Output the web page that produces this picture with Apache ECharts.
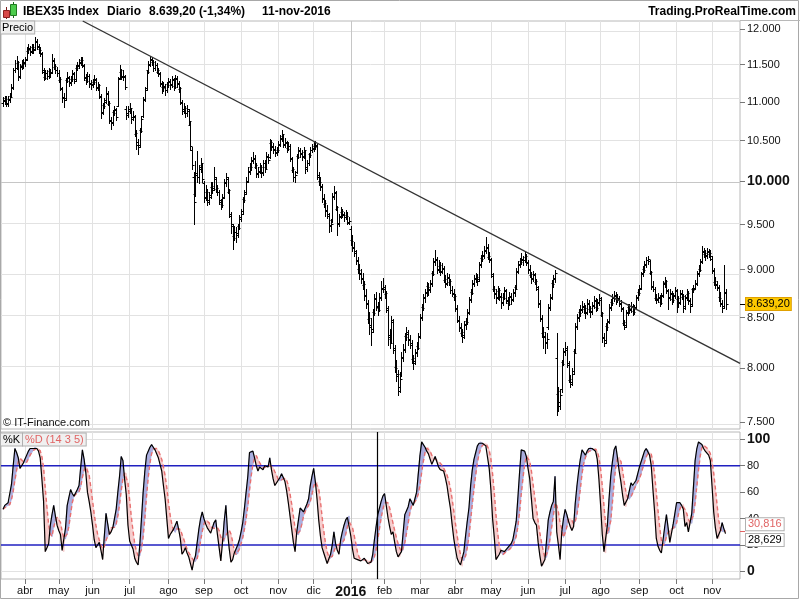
<!DOCTYPE html>
<html><head><meta charset="utf-8">
<script src="https://cdn.jsdelivr.net/npm/echarts@6/dist/echarts.min.js"></script>
<style>html,body{margin:0;padding:0;background:#fff}#c{width:800px;height:600px}</style>
</head><body><div id="c"></div>
<script>
// ---------- DATA ----------
const monthLabels = ['mar','abr','may','jun','jul','ago','sep','oct','nov','dic','2016','feb','mar','abr','may','jun','jul','ago','sep','oct','nov'];
const tradingDays = [13,20,20,22,23,21,22,22,21,22,20,21,21,21,22,22,21,23,22,21,9];

const open = [
10980,11020,11050,10970,11040,11080,11200,11430,11460,11520,
11350,11470,11500,11540,11580,11690,11730,11690,11750,11720,
11830,11750,11710,11640,11400,11330,11390,11340,11410,11400,
11550,11470,11430,11380,11290,11170,11060,11050,11290,11320,
11260,11310,11370,11300,11460,11490,11530,11560,11480,11330,
11290,11340,11250,11230,11270,11290,11190,11200,11060,10870,
10960,11020,11100,10970,10750,10740,10870,10890,10950,11320,
11400,11340,11330,10900,10850,10900,10880,10800,10800,10580,
10480,10450,10640,10820,11040,11180,11420,11510,11570,11530,
11460,11490,11400,11370,11240,11190,11210,11160,11230,11270,
11230,11290,11210,11310,11240,11170,10990,10900,10900,10860,
10880,10700,10380,10050,9850,10080,10060,10170,10200,9980,
9820,9870,9780,9840,9940,9920,10030,9910,9870,9760,
9740,9820,9990,10030,9880,9600,9480,9370,9410,9400,
9480,9580,9650,9790,9870,10010,10130,10170,10260,10270,
10180,10100,10130,10170,10110,10230,10170,10310,10300,10470,
10430,10390,10360,10390,10460,10530,10560,10460,10470,10410,
10430,10270,10140,10060,10120,10310,10370,10340,10310,10360,
10170,10230,10330,10390,10410,10430,10440,10080,10010,9930,
9790,9740,9660,9600,9490,9550,9830,9860,9680,9520,
9600,9640,9610,9590,9610,9520,9450,9320,9240,9180,
9090,9010,8960,8910,8840,8730,8640,8490,8420,8380,
8560,8690,8610,8600,8710,8810,8800,8740,8580,8320,
8280,8450,8180,8010,7930,7820,7950,8110,8190,8310,
8330,8270,8230,8090,8070,8160,8220,8310,8510,8610,
8710,8760,8830,8790,8860,8960,9090,9110,9010,9040,
8990,9010,8890,8860,8910,8870,8780,8740,8710,8590,
8470,8390,8340,8320,8430,8460,8560,8690,8760,8860,
8910,8910,8900,9060,9130,9160,9210,9240,9140,9100,
8930,8790,8740,8710,8770,8710,8660,8710,8770,8670,
8650,8710,8690,8760,8820,8990,9060,9090,9110,9110,
9140,9070,9010,8940,8910,8940,8870,8800,8640,8490,
8340,8310,8260,8400,8610,8710,8860,8910,8100,7760,
7680,7800,8060,8170,8180,8030,7890,7870,7970,8170,
8410,8510,8560,8590,8610,8590,8560,8640,8590,8570,
8630,8670,8610,8660,8680,8530,8290,8270,8410,8460,
8610,8660,8710,8730,8690,8690,8640,8590,8440,8420,
8560,8610,8590,8610,8570,8610,8710,8760,8810,8960,
9010,9060,9110,9090,8960,8830,8790,8700,8690,8710,
8660,8730,8860,8870,8770,8710,8740,8690,8730,8770,
8690,8660,8740,8710,8620,8710,8740,8670,8640,8790,
8810,8860,8960,9010,9090,9190,9170,9160,9190,9170,
9120,8990,8870,8840,8810,8710,8640,8620,8760];

const high = [
11060,11080,11070,11070,11110,11230,11450,11560,11620,11550,
11510,11560,11580,11600,11740,11780,11760,11790,11780,11880,
11860,11790,11740,11680,11460,11420,11430,11450,11440,11650,
11590,11510,11470,11420,11330,11200,11110,11320,11400,11350,
11340,11420,11400,11490,11530,11580,11610,11600,11510,11370,
11400,11370,11290,11300,11360,11320,11270,11230,11100,10990,
11050,11200,11140,11010,10800,10890,10950,10920,11330,11500,
11440,11420,11360,10950,10950,10990,10900,10880,10830,10640,
10520,10660,10820,11060,11200,11430,11550,11620,11610,11570,
11550,11520,11460,11400,11280,11260,11240,11260,11320,11300,
11340,11320,11360,11350,11280,11200,11030,10980,10940,10960,
10910,10740,10420,10120,10250,10370,10200,10290,10230,10010,
9960,9910,9880,10000,9990,10170,10060,9960,9900,9790,
9850,10030,10100,10060,9910,9640,9510,9480,9470,9510,
9610,9680,9820,9900,10050,10170,10230,10300,10360,10320,
10220,10170,10230,10200,10260,10260,10360,10340,10520,10510,
10470,10430,10420,10500,10570,10640,10590,10530,10500,10490,
10460,10300,10180,10130,10340,10420,10410,10390,10420,10390,
10260,10350,10420,10460,10480,10500,10460,10120,10060,9970,
9850,9780,9720,9630,9560,9860,9950,9890,9710,9620,
9700,9680,9640,9660,9640,9580,9480,9380,9300,9220,
9140,9060,9010,8960,8880,8800,8680,8560,8500,8590,
8740,8760,8660,8750,8880,8910,8840,8770,8620,8380,
8520,8490,8230,8080,7980,7960,8160,8240,8340,8400,
8370,8320,8270,8130,8190,8260,8340,8540,8640,8740,
8800,8870,8860,8890,8990,9130,9220,9140,9100,9080,
9070,9040,8940,8960,8950,8900,8830,8790,8740,8630,
8520,8440,8380,8460,8500,8590,8710,8790,8890,8940,
8970,8950,9080,9160,9200,9260,9360,9280,9190,9130,
8970,8830,8790,8830,8810,8750,8750,8820,8800,8710,
8760,8750,8800,8840,9020,9090,9130,9180,9150,9190,
9170,9100,9050,8980,8990,8970,8900,8830,8680,8530,
8400,8350,8340,8640,8740,8890,8940,9000,8340,7820,
7800,8080,8200,8260,8220,8070,7940,8000,8190,8440,
8540,8590,8630,8670,8650,8630,8690,8680,8620,8660,
8720,8700,8690,8740,8710,8560,8340,8440,8490,8640,
8690,8740,8770,8760,8740,8720,8680,8610,8480,8580,
8640,8640,8660,8640,8630,8730,8790,8840,8980,9040,
9090,9140,9150,9110,8990,8880,8820,8740,8750,8730,
8750,8880,8920,8890,8800,8790,8770,8750,8820,8800,
8720,8780,8780,8740,8730,8790,8770,8700,8810,8840,
8890,8990,9050,9120,9260,9240,9220,9240,9230,9210,
9150,9020,8920,8880,8840,8760,8680,9050,8800];

const low = [
10950,10970,10940,10950,11000,11060,11170,11400,11440,11290,
11320,11440,11460,11480,11560,11660,11630,11660,11660,11700,
11720,11660,11620,11390,11290,11300,11300,11320,11330,11380,
11440,11380,11340,11260,11150,11000,10930,11030,11260,11210,
11220,11280,11250,11280,11420,11460,11500,11470,11290,11240,
11260,11200,11170,11190,11240,11150,11160,11050,10790,10840,
10920,10990,10960,10720,10650,10700,10830,10760,10940,11300,
11300,11290,11170,10780,10800,10850,10730,10760,10560,10400,
10330,10420,10610,10800,11010,11160,11390,11480,11490,11410,
11430,11380,11340,11210,11120,11140,11090,11130,11190,11170,
11200,11150,11180,11200,11130,10970,10840,10850,10800,10820,
10700,10380,10150,9500,9830,10000,9980,10120,9990,9760,
9780,9720,9740,9810,9860,9900,9880,9840,9740,9680,
9700,9800,9950,9860,9590,9400,9230,9320,9300,9360,
9450,9540,9620,9760,9850,9990,10090,10140,10220,10160,
10050,10060,10100,10060,10080,10110,10150,10220,10280,10380,
10350,10310,10320,10360,10430,10500,10420,10420,10360,10380,
10250,10110,10010,10000,10100,10280,10300,10260,10280,10100,
10130,10200,10300,10360,10370,10400,10030,9960,9900,9760,
9700,9600,9570,9420,9430,9530,9790,9660,9380,9480,
9570,9580,9540,9560,9500,9500,9270,9200,9150,9060,
8960,8900,8860,8800,8680,8600,8440,8330,8230,8350,
8530,8580,8530,8570,8680,8760,8700,8560,8230,8200,
8250,8150,7960,7880,7750,7780,7930,8070,8160,8270,
8230,8200,8050,7990,8040,8120,8190,8290,8480,8580,
8660,8720,8730,8760,8830,8940,9050,8970,8980,8940,
8960,8870,8820,8840,8840,8750,8720,8680,8570,8450,
8360,8310,8260,8290,8380,8430,8540,8660,8740,8830,
8870,8840,8880,9030,9090,9130,9180,9120,9080,8920,
8770,8700,8650,8690,8680,8600,8630,8690,8650,8590,
8630,8640,8670,8720,8800,8960,9030,9060,9050,9080,
9050,8960,8920,8860,8880,8850,8780,8610,8460,8300,
8200,8150,8200,8380,8580,8690,8820,8870,7570,7600,
7620,7780,8030,8130,8010,7870,7820,7840,7950,8150,
8380,8470,8520,8560,8550,8500,8540,8560,8510,8540,
8600,8570,8580,8630,8520,8260,8220,8250,8370,8440,
8580,8630,8670,8640,8660,8620,8570,8420,8380,8400,
8530,8550,8560,8530,8540,8590,8680,8730,8790,8930,
8980,9030,9060,8950,8800,8770,8680,8650,8660,8620,
8640,8710,8820,8750,8590,8680,8640,8660,8700,8560,
8610,8640,8690,8560,8590,8680,8640,8560,8620,8760,
8790,8840,8930,8990,9070,9140,9110,9130,9140,9110,
8960,8840,8810,8780,8670,8620,8560,8600,8590];

const close = [
11010,11040,10980,11030,11060,11180,11420,11450,11540,11330,
11480,11510,11520,11560,11700,11720,11680,11740,11700,11820,
11760,11700,11660,11420,11320,11380,11340,11400,11380,11560,
11480,11420,11390,11300,11180,11050,11020,11280,11330,11250,
11300,11380,11280,11450,11480,11520,11560,11500,11320,11280,
11350,11240,11220,11260,11300,11180,11220,11080,10850,10950,
11000,11120,10990,10760,10720,10850,10900,10800,11300,11420,
11330,11350,11200,10830,10880,10920,10780,10820,10600,10450,
10420,10620,10780,11020,11150,11400,11500,11580,11540,11450,
11500,11420,11380,11250,11180,11200,11150,11220,11280,11220,
11300,11200,11320,11250,11180,11000,10880,10920,10850,10900,
10750,10430,10200,9760,10100,10050,10150,10220,10030,9800,
9880,9760,9820,9950,9900,10050,9920,9880,9780,9720,
9800,9980,10050,9900,9620,9500,9350,9420,9380,9460,
9560,9620,9780,9850,10000,10120,10180,10250,10280,10200,
10090,10120,10180,10100,10220,10150,10300,10260,10480,10420,
10400,10350,10380,10450,10520,10580,10450,10480,10400,10440,
10280,10150,10050,10080,10300,10380,10350,10300,10380,10150,
10220,10320,10380,10400,10420,10450,10060,10000,9950,9800,
9750,9650,9620,9480,9500,9820,9880,9700,9500,9580,
9650,9620,9580,9600,9530,9545,9310,9250,9200,9100,
9000,8950,8900,8850,8720,8650,8500,8400,8350,8550,
8700,8620,8580,8700,8800,8820,8750,8600,8300,8250,
8480,8200,8000,7950,7790,7900,8100,8180,8300,8350,
8280,8250,8100,8050,8150,8200,8300,8500,8600,8700,
8750,8820,8780,8850,8950,9080,9120,9000,9050,8980,
9020,8900,8850,8920,8880,8780,8750,8720,8600,8480,
8400,8350,8300,8420,8450,8550,8680,8750,8850,8900,
8920,8880,9050,9120,9150,9200,9250,9150,9120,8950,
8800,8750,8700,8780,8720,8650,8700,8780,8680,8640,
8720,8680,8750,8800,8980,9050,9080,9120,9100,9150,
9080,9000,8950,8900,8950,8880,8820,8650,8500,8350,
8300,8250,8280,8600,8700,8850,8900,8960,7790,7650,
7750,8040,8160,8200,8050,7900,7850,7950,8150,8400,
8500,8550,8580,8620,8600,8550,8650,8600,8560,8620,
8680,8600,8650,8700,8550,8300,8250,8400,8450,8600,
8650,8700,8720,8680,8700,8650,8600,8450,8400,8550,
8600,8580,8620,8560,8600,8700,8750,8800,8950,9000,
9050,9100,9120,8980,8820,8800,8700,8680,8700,8650,
8720,8850,8880,8780,8700,8750,8680,8720,8780,8700,
8650,8750,8720,8600,8700,8750,8680,8620,8780,8800,
8850,8950,9000,9080,9200,9180,9150,9200,9180,9150,
9000,8880,8850,8820,8700,8650,8600,8756.5,8639.2];

const stochK = [
47,50,51,52,53,66,80,93,90,86,
78,80,82,85,88,91,93,93,93,94,
93,91,86,70,53,15,18,21,35,43,
50,42,35,31,28,16,15,33,50,56,
62,59,57,58,62,65,79,92,85,75,
60,53,45,35,24,18,20,22,16,9,
27,44,36,28,30,33,40,47,60,72,
87,84,70,58,35,23,20,17,10,7,
5,20,40,60,76,88,91,94,96,94,
92,89,86,81,76,65,55,40,25,28,
30,32,33,38,32,25,13,15,18,14,
11,6,1,8,12,22,32,40,45,40,
36,33,31,29,33,37,39,28,18,8,
22,38,50,30,17,7,9,14,17,20,
24,30,37,48,60,72,90,91,91,86,
80,76,79,80,77,80,80,79,86,77,
70,65,67,69,71,74,71,68,61,52,
42,32,22,15,30,39,48,47,45,48,
51,55,65,72,78,68,55,39,27,18,
14,10,6,7,13,20,30,21,16,13,
24,30,35,39,41,42,27,17,10,9,
9,8,8,9,10,8,6,5,7,13,
24,34,43,48,53,57,59,50,41,34,
28,30,22,15,11,11,15,29,43,46,
49,55,54,50,55,60,74,88,98,96,
94,91,89,85,81,84,87,83,79,77,
76,76,71,65,56,48,36,25,17,10,
7,5,4,15,27,38,48,65,77,85,
90,95,97,98,97,96,95,94,78,62,
40,26,9,10,13,16,15,15,16,18,
19,21,24,31,38,56,75,92,91,91,
87,78,70,55,40,37,35,22,12,4,
5,9,24,39,45,50,53,72,30,20,
9,30,40,47,43,38,34,31,34,52,
65,76,85,92,90,88,91,93,94,93,
92,91,85,70,50,28,15,14,35,55,
72,83,92,95,86,76,68,58,50,49,
55,61,67,65,64,69,74,79,83,87,
91,93,92,88,80,62,45,25,19,16,
14,24,34,43,33,22,29,36,44,52,
52,52,50,47,34,37,30,37,44,64,
84,93,98,97,96,93,91,90,88,84,
65,45,33,25,25,31,37,32.45,28.629];

const stochD = [
47,48.5,49.3,50,50.6,54.4,60.4,68.8,76.4,83,
85.4,85.4,83.2,82.2,82.6,85.2,87.8,90,91.6,92.8,
93.2,92.8,91.4,86.8,78.6,63,48.4,35.4,28.4,26.4,
33.4,38.2,41,40.2,37.2,30.4,25,24.6,28.4,34,
43.2,52,56.8,58.4,59.6,60.2,64.2,71.2,76.6,79.2,
78.2,73,63.6,53.6,43.4,35,28.4,23.8,20,17,
18.8,23.6,26.4,28.8,33,34.2,33.4,35.6,42,50.4,
61.2,70,74.6,74.2,66.8,54,41.2,30.6,21,15.4,
11.8,11.8,16.4,26.4,40.2,56.8,71,81.8,89,92.6,
93.4,93,91.4,88.4,84.8,79.4,72.6,63.4,52.2,42.6,
35.6,31,29.6,32.2,33,32,28.2,24.6,20.6,17,
14.2,12.8,10,8,7.6,9.8,15,22.8,30.2,35.8,
38.6,38.8,37,33.8,32.4,32.6,33.8,33.2,31,26,
23,22.8,27.2,29.6,31.4,28.4,22.6,15.4,12.8,13.4,
16.8,21,25.6,31.8,39.8,49.4,61.4,72.2,80.8,86,
87.6,84.8,82.4,80.2,78.4,78.4,79.2,79.2,80.4,80.4,
78.4,75.4,73,69.6,68.4,69.2,70.4,70.6,69,65.2,
58.8,51,41.8,32.6,28.2,27.6,30.8,35.8,41.8,45.4,
47.8,49.2,52.8,58.2,64.2,67.6,67.6,62.4,53.4,41.4,
30.6,21.6,15,11,10,11.2,15.2,18.2,20,20,
20.8,20.8,23.6,28.2,33.8,37.4,36.8,33.2,27.4,21,
14.4,10.6,8.8,8.6,8.8,8.6,8.2,7.6,7.2,7.8,
11,16.6,24.2,32.4,40.4,47,52,53.4,52,48.2,
42.4,36.6,31,25.8,21.2,17.8,14.8,16.2,21.8,28.8,
36.4,44.4,49.4,50.8,52.6,54.8,58.6,65.4,75,83.2,
90,93.4,93.6,91,88,86,85.2,84,82.8,82,
80.4,78.2,75.8,73,68.8,63.2,55.2,46,36.4,27.2,
19,12.8,8.6,8.2,11.6,17.8,26.4,38.6,51,62.6,
73,82.4,88.8,93,95.4,96.6,96.6,96,92,85,
73.8,60,43,29.4,19.6,14.8,12.6,13.8,15,16,
16.6,17.8,19.6,22.6,26.6,34,44.8,58.4,70.4,81,
87.2,87.8,83.4,76.2,66,56,47.4,37.8,29.2,22,
15.6,10.4,10.8,16.2,24.4,33.4,42.2,51.8,50,45,
36.8,32.2,25.8,29.2,33.8,39.6,40.4,38.6,36,37.8,
43.2,51.6,62.4,74,81.6,86.2,89.2,90.8,91.2,91.8,
92.6,92.6,91,86.2,77.6,64.8,49.6,35.4,28.4,29.4,
38.2,51.8,67.4,79.4,85.6,86.4,83.4,76.6,67.6,60.2,
56,54.6,56.4,59.4,62.4,65.2,67.8,70.2,73.8,78.4,
82.8,86.6,89.2,90.2,88.8,83,73.4,60,46.2,33.4,
23.8,19.6,21.4,26.2,29.6,31.2,32.2,32.6,32.8,36.6,
42.6,47.2,50,50.6,47,44,39.6,37,36.4,42.4,
51.8,64.4,76.6,87.2,93.6,95.4,95,93.4,91.6,89.2,
83.6,74.4,63,50.4,38.6,31.8,30.2,30.09,30.816];

const priceTicks = [7500,8000,8500,9000,9500,10000,10500,11000,11500,12000];
const boldPrice = 10000;
const stochTicks = [0,20,40,60,80,100];
const stochLevels = [20,80];
const trendLine = [[47.2,12115],[436.6,8047]];   // [bar index, price]
const cursorIndex = 221.7;
const titleName = 'IBEX35 Index', titlePeriod = 'Diario', titleDate = '11-nov-2016';

// ---------- BUILD ----------
const FONT = '"Liberation Sans", Arial, sans-serif';
const N = close.length;
const monthStarts = []; let acc = 0;
tradingDays.forEach(d => { monthStarts.push(acc); acc += d; });
const labelTicks = monthStarts.slice(1);
const yearStart = monthStarts[10];
const labelByIndex = {};
labelTicks.forEach((s, k) => { labelByIndex[s] = monthLabels[k + 1]; });

const thou = n => String(n).replace(/\B(?=(\d{3})+(?!\d))/g, '.');
const fmtPrice2 = p => { const s = p.toFixed(2).split('.'); return thou(s[0]) + ',' + s[1]; };

const ohlc = close.map((c, i) => [i, Math.log(open[i]), Math.log(high[i]), Math.log(low[i]), Math.log(c)]);
const kLine = stochK.map((v, i) => [i, v]);
const dLine = stochD.map((v, i) => [i, v]);
const fillData = [];
for (let i = 0; i < N - 1; i++) fillData.push([i, stochK[i], stochD[i], stochK[i + 1], stochD[i + 1]]);

const X_MIN = -1.22, X_MAX = 436.58;
const Y_MIN = Math.log(7440), Y_MAX = Math.log(12115);

function renderBar(params, api) {
  const i = api.value(0);
  const pH = api.coord([i, api.value(2)]);
  const pL = api.coord([i, api.value(3)]);
  const pO = api.coord([i, api.value(1)]);
  const pC = api.coord([i, api.value(4)]);
  const x = Math.round(pH[0]) + 0.5;
  const yo = Math.round(pO[1]) + 0.5, yc = Math.round(pC[1]) + 0.5;
  const st = { stroke: '#000', lineWidth: 1 };
  return { type: 'group', children: [
    { type: 'line', shape: { x1: x, y1: Math.round(pH[1]), x2: x, y2: Math.round(pL[1]) + 1 }, style: st },
    { type: 'line', shape: { x1: x - 2, y1: yo, x2: x, y2: yo }, style: st },
    { type: 'line', shape: { x1: x, y1: yc, x2: x + 2, y2: yc }, style: st }
  ]};
}

const UP = '#a9acdf', DN = '#f6cccc';
function renderFill(params, api) {
  const i = api.value(0), k0 = api.value(1), d0 = api.value(2), k1 = api.value(3), d1 = api.value(4);
  const e0 = k0 - d0, e1 = k1 - d1;
  const P = (x, y) => api.coord([x, y]);
  const ch = [];
  const poly = (pts, c) => ch.push({ type: 'polygon', shape: { points: pts }, style: { fill: c, stroke: c, lineWidth: 0.6 } });
  if (e0 * e1 >= 0) {
    poly([P(i, k0), P(i + 1, k1), P(i + 1, d1), P(i, d0)], (e0 + e1) >= 0 ? UP : DN);
  } else {
    const t = e0 / (e0 - e1), xc = i + t, yc = k0 + (k1 - k0) * t;
    poly([P(i, k0), P(xc, yc), P(i, d0)], e0 > 0 ? UP : DN);
    poly([P(xc, yc), P(i + 1, k1), P(i + 1, d1)], e1 > 0 ? UP : DN);
  }
  return { type: 'group', children: ch };
}

const chart = echarts.init(document.getElementById('c'), null, { renderer: 'canvas' });
const axisText = { fontFamily: FONT, fontSize: 11, color: '#111' };
const boldRich = { b: { fontFamily: FONT, fontSize: 14, fontWeight: 'bold', color: '#111' } };
const LIGHT = '#e2e2e2', DARK = '#c6c6c6', LEVEL = '#2020c0';
const gridMarks = (xi, yi, data, color, z, w) => ({
  type: 'line', xAxisIndex: xi, yAxisIndex: yi, data: [], z: z, silent: true,
  markLine: { z: z, silent: true, symbol: 'none', label: { show: false }, animation: false,
    lineStyle: { color: color, type: 'solid', width: w || 1 }, data: data }
});
const levelLine = v => ({
  type: 'line', xAxisIndex: 1, yAxisIndex: 1, data: [[X_MIN, v], [X_MAX, v]], symbol: 'none',
  z: 3, silent: true, color: LEVEL, itemStyle: { color: LEVEL },
  lineStyle: { color: LEVEL, width: 1.4, type: 'solid' }
});

chart.setOption({
  animation: false,
  backgroundColor: '#fff',
  textStyle: { fontFamily: FONT },
  grid: [
    { left: 1, top: 21, width: 739, height: 408, show: true, borderColor: '#b8b8b8', borderWidth: 1, backgroundColor: 'transparent' },
    { left: 1, top: 432, width: 739, height: 147, show: true, borderColor: '#b8b8b8', borderWidth: 1, backgroundColor: 'transparent' }
  ],
  xAxis: [
    { type: 'value', gridIndex: 0, min: X_MIN, max: X_MAX,
      axisLine: { show: false, onZero: false }, axisLabel: { show: false },
      axisTick: { show: false }, splitLine: { show: false } },
    { type: 'value', gridIndex: 1, min: X_MIN, max: X_MAX,
      axisLine: { show: false, onZero: false },
      axisTick: { show: true, length: 5, customValues: labelTicks, lineStyle: { color: '#777' } },
      axisLabel: Object.assign({ customValues: labelTicks, margin: 6, rich: boldRich,
        formatter: v => { const s = labelByIndex[Math.round(v)] || ''; return /^\d{4}$/.test(s) ? '{b|' + s + '}' : s; } }, axisText),
      splitLine: { show: false } }
  ],
  yAxis: [
    { type: 'value', gridIndex: 0, position: 'right', min: Y_MIN, max: Y_MAX,
      axisLine: { show: false, onZero: false },
      axisTick: { show: true, length: 5, customValues: priceTicks.map(Math.log), lineStyle: { color: '#777' } },
      axisLabel: Object.assign({ customValues: priceTicks.map(Math.log), margin: 7, rich: boldRich,
        formatter: v => { const p = Math.round(Math.exp(v)); const s = thou(p); return p === boldPrice ? '{b|' + s + '}' : s; } }, axisText),
      splitLine: { show: false } },
    { type: 'value', gridIndex: 1, position: 'right', min: -5.7, max: 105.5,
      axisLine: { show: false, onZero: false },
      axisTick: { show: true, length: 5, customValues: stochTicks, lineStyle: { color: '#777' } },
      axisLabel: Object.assign({ customValues: stochTicks, margin: 7, rich: boldRich,
        formatter: v => (v === 0 || v === 100) ? '{b|' + v + '}' : String(v) }, axisText),
      splitLine: { show: false } }
  ],
  series: [
    // grid lines (price panel)
    gridMarks(0, 0, priceTicks.filter(p => p !== boldPrice).map(p => ({ yAxis: Math.log(p) }))
      .concat(labelTicks.filter(t => t !== yearStart).map(t => ({ xAxis: t }))), LIGHT, 1),
    gridMarks(0, 0, [{ yAxis: Math.log(boldPrice) }, { xAxis: yearStart }], DARK, 1),
    // grid lines (stochastic panel)
    gridMarks(1, 1, stochTicks.filter(v => stochLevels.indexOf(v) < 0).map(v => ({ yAxis: v }))
      .concat(labelTicks.filter(t => t !== yearStart).map(t => ({ xAxis: t }))), LIGHT, 1),
    gridMarks(1, 1, [{ xAxis: yearStart }], DARK, 1),
    // price bars + trend line
    { type: 'custom', xAxisIndex: 0, yAxisIndex: 0, data: ohlc, renderItem: renderBar, z: 3, silent: true,
      encode: { x: 0, y: [1, 2, 3, 4] }, clip: true },
    { type: 'line', xAxisIndex: 0, yAxisIndex: 0, data: trendLine.map(p => [p[0], Math.log(p[1])]),
      symbol: 'none', lineStyle: { color: '#333', width: 1.4 }, z: 4, silent: true, clip: true },
    // stochastic
    { type: 'custom', xAxisIndex: 1, yAxisIndex: 1, data: fillData, renderItem: renderFill, z: 2, silent: true,
      encode: { x: 0, y: [1, 2] }, clip: true },
    levelLine(stochLevels[0]),
    levelLine(stochLevels[1]),
    gridMarks(1, 1, [{ xAxis: cursorIndex }], '#000', 6, 1.2),
    { type: 'line', xAxisIndex: 1, yAxisIndex: 1, data: dLine, symbol: 'none', z: 4, silent: true,
      lineStyle: { color: '#e87070', width: 1.4, type: [4, 3] } },
    { type: 'line', xAxisIndex: 1, yAxisIndex: 1, data: kLine, symbol: 'none', z: 5, silent: true,
      lineStyle: { color: '#000', width: 1.2 } }
  ]
});

// ---------- overlay texts / value boxes ----------
const lastC = close[N - 1], prevC = close[N - 2];
const pct = (lastC / prevC - 1) * 100;
const pctTxt = (pct >= 0 ? '+' : '-') + Math.abs(pct).toFixed(2).replace('.', ',') + '%';
const yPrice = chart.convertToPixel({ gridIndex: 0 }, [N - 1, Math.log(lastC)])[1];
const lastK = stochK[N - 1], lastD = stochD[N - 1];
const yK = chart.convertToPixel({ gridIndex: 1 }, [N - 1, lastK])[1];
const yD = chart.convertToPixel({ gridIndex: 1 }, [N - 1, lastD])[1];
const dAbove = lastD >= lastK;
const yDLab = dAbove ? yD - 6.5 : yD + 6.5;
const yKLab = dAbove ? yK + 6.5 : yK - 6.5;
const f11 = '11px ' + FONT, b12 = 'bold 12px ' + FONT;

const g = [
  { type: 'rect', shape: { x: 0.5, y: 0.5, width: 798, height: 598 }, style: { fill: null, stroke: '#a8a8a8', lineWidth: 1 }, z: 0, silent: true },
  { type: 'line', shape: { x1: 740, y1: 20.5, x2: 800, y2: 20.5 }, style: { stroke: '#b8b8b8', lineWidth: 1 }, silent: true },
  // icon
  { type: 'line', shape: { x1: 6.5, y1: 7, x2: 6.5, y2: 19 }, style: { stroke: '#7a1a1a', lineWidth: 1 }, silent: true },
  { type: 'rect', shape: { x: 3.5, y: 10.5, width: 6, height: 7 }, style: { fill: '#d84848', stroke: '#8a2020', lineWidth: 1 }, silent: true },
  { type: 'line', shape: { x1: 13.5, y1: 2, x2: 13.5, y2: 18 }, style: { stroke: '#1a6a1a', lineWidth: 1 }, silent: true },
  { type: 'rect', shape: { x: 10.5, y: 4.5, width: 6, height: 11 }, style: { fill: '#4ccc4c', stroke: '#207a20', lineWidth: 1 }, silent: true },
  // title
  { type: 'text', x: 23, y: 12, style: { text: titleName, font: b12, fill: '#000', verticalAlign: 'middle' }, silent: true },
  { type: 'text', x: 107, y: 12, style: { text: titlePeriod, font: b12, fill: '#000', verticalAlign: 'middle' }, silent: true },
  { type: 'text', x: 149, y: 12, style: { text: fmtPrice2(lastC) + ' (' + pctTxt + ')', font: b12, fill: '#000', verticalAlign: 'middle' }, silent: true },
  { type: 'text', x: 262, y: 12, style: { text: titleDate, font: b12, fill: '#000', verticalAlign: 'middle' }, silent: true },
  { type: 'text', x: 796, y: 12, style: { text: 'Trading.ProRealTime.com', font: b12, fill: '#000', align: 'right', verticalAlign: 'middle' }, silent: true },
  // panel tags
  { type: 'text', x: 1, y: 27.5, z: 10, style: { text: 'Precio', font: f11, fill: '#000', verticalAlign: 'middle', backgroundColor: '#f0f0f0', borderColor: '#b0b0b0', borderWidth: 1, padding: [1, 1, 0, 1] }, silent: true },
  { type: 'text', x: 3, y: 423, z: 10, style: { text: '\u00a9 IT-Finance.com', font: f11, fill: '#111', verticalAlign: 'middle' }, silent: true },
  { type: 'text', x: 1, y: 439.5, z: 10, style: { text: '%K', font: f11, fill: '#000', verticalAlign: 'middle', backgroundColor: '#f0f0f0', borderColor: '#b0b0b0', borderWidth: 1, padding: [1, 2, 0, 2] }, silent: true },
  { type: 'text', x: 23, y: 439.5, z: 10, style: { text: '%D (14 3 5)', font: f11, fill: '#e06464', verticalAlign: 'middle', backgroundColor: '#f0f0f0', borderColor: '#b0b0b0', borderWidth: 1, padding: [1, 2, 0, 2] }, silent: true },
  // last price box
  { type: 'line', shape: { x1: 740, y1: Math.round(yPrice) + 0.5, x2: 745, y2: Math.round(yPrice) + 0.5 }, style: { stroke: '#000', lineWidth: 1 }, z: 10, silent: true },
  { type: 'text', x: 746, y: yPrice, z: 10, style: { text: fmtPrice2(lastC), font: f11, fill: '#000', verticalAlign: 'middle', backgroundColor: '#fcc800', borderColor: '#e0a000', borderWidth: 1, padding: [1, 1, 0, 1] }, silent: true },
  // stochastic value boxes
  { type: 'line', shape: { x1: 740, y1: Math.round(yD) + 0.5, x2: 745, y2: Math.round(yD) + 0.5 }, style: { stroke: '#e06464', lineWidth: 1 }, z: 10, silent: true },
  { type: 'text', x: 746, y: yDLab, z: 10, style: { text: lastD.toFixed(3).replace('.', ','), font: f11, fill: '#e06464', verticalAlign: 'middle', backgroundColor: '#fff', borderColor: '#b0b0b0', borderWidth: 1, padding: [1, 2, 0, 2] }, silent: true },
  { type: 'text', x: 746, y: yKLab, z: 10, style: { text: lastK.toFixed(3).replace('.', ','), font: f11, fill: '#000', verticalAlign: 'middle', backgroundColor: '#fff', borderColor: '#b0b0b0', borderWidth: 1, padding: [1, 2, 0, 2] }, silent: true }
];
chart.setOption({ graphic: g });
</script>
</body></html>
